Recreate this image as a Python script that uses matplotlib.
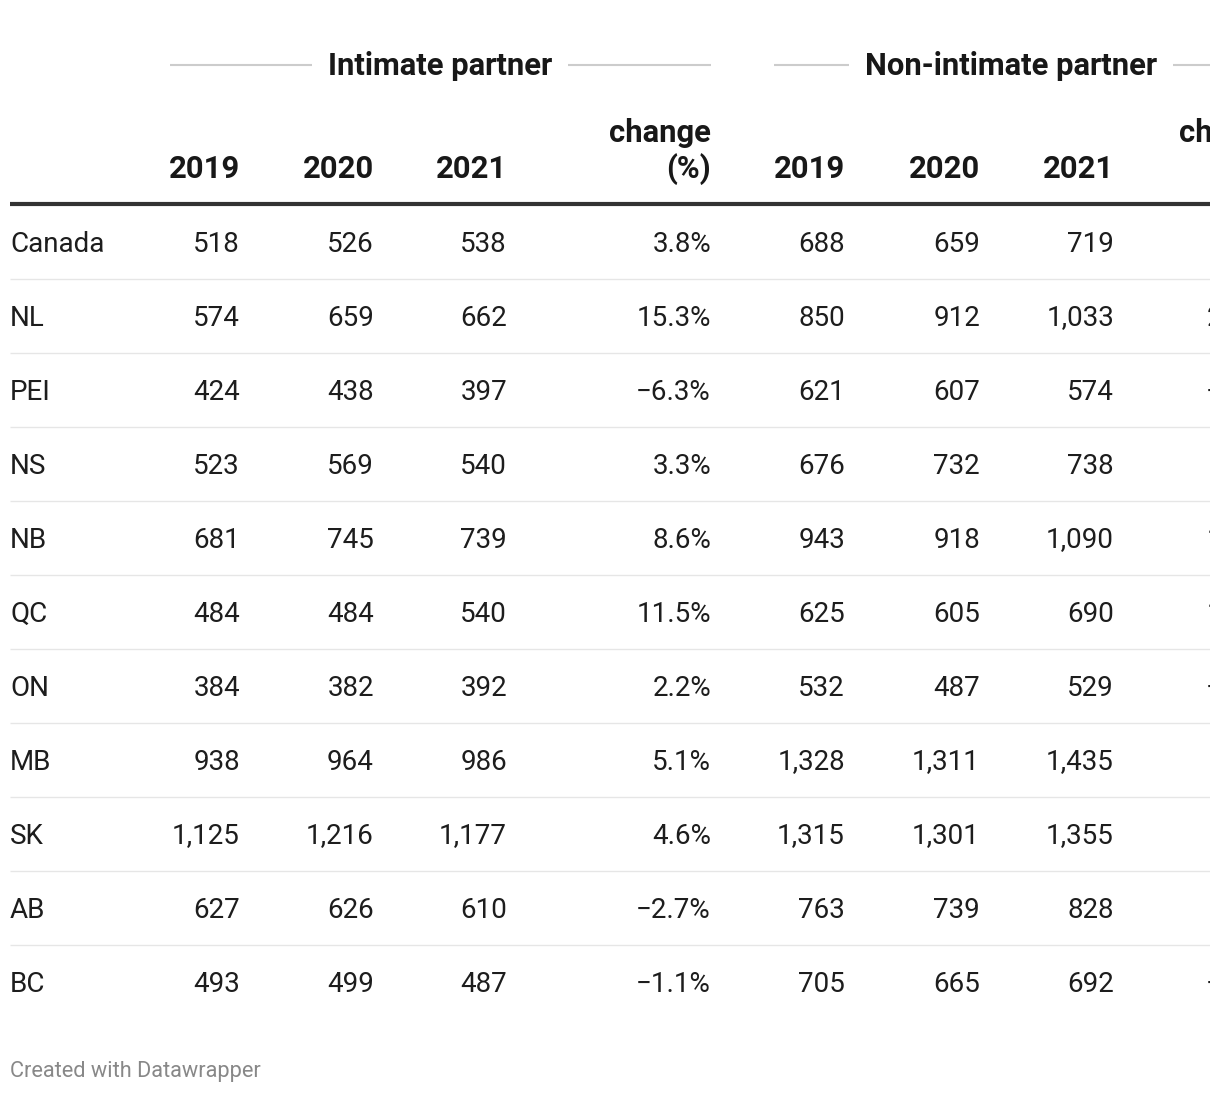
import matplotlib.pyplot as plt

plt.rcParams['font.family'] = ['Roboto', 'DejaVu Sans']

# data
regions = ["Canada", "NL", "PEI", "NS", "NB", "QC", "ON", "MB", "SK", "AB", "BC"]
ip_2019 = [518, 574, 424, 523, 681, 484, 384, 938, 1125, 627, 493]
ip_2020 = [526, 659, 438, 569, 745, 484, 382, 964, 1216, 626, 499]
ip_2021 = [538, 662, 397, 540, 739, 540, 392, 986, 1177, 610, 487]
ip_change = [3.8, 15.3, -6.3, 3.3, 8.6, 11.5, 2.2, 5.1, 4.6, -2.7, -1.1]
nip_2019 = [688, 850, 621, 676, 943, 625, 532, 1328, 1315, 763, 705]
nip_2020 = [659, 912, 607, 732, 918, 605, 487, 1311, 1301, 739, 665]
nip_2021 = [719, 1033, 574, 738, 1090, 690, 529, 1435, 1355, 828, 692]
nip_change = [4.5, 21.5, -7.6, 9.2, 15.6, 10.4, -0.6, 8.1, 3.0, 8.5, -1.8]
years = ["2019", "2020", "2021"]

W, H = 1220, 1094
VIS = 1210  # table is cut off here in the reference
fig = plt.figure(figsize=(W / 100, H / 100), dpi=100)
ax = fig.add_axes([0, 0, VIS / W, 1])
ax.set_xlim(0, VIS)
ax.set_ylim(H, 0)
ax.axis('off')

txt = '#1d1d1d'
body = 20
head = 22.3

def fmt(v):
    return f"{v:,}"

def fmt_pct(v):
    s = f"{v:.1f}%"
    return s.replace('-', '\u2212')

def cell(x, y, s, **kw):
    t = ax.text(x, y, s, va='center', **kw)
    t.set_clip_on(True)
    return t

# group headers: (name, line start, line end, text centre, half text width)
groups = [("Intimate partner", 170, 711, 440, 112),
          ("Non-intimate partner", 774, 1290, 1011, 146)]
for name, x0, x1, xc, half in groups:
    cell(xc, 66, name, ha='center', fontsize=head,
         fontweight='bold', color='#181818')
    ax.plot([x0, xc - half - 16], [65, 65], color='#cccccc', lw=1.5,
            solid_capstyle='butt')
    ax.plot([xc + half + 16, x1], [65, 65], color='#cccccc', lw=1.5,
            solid_capstyle='butt')

# column headers
ip_x = [240, 374, 507]
nip_x = [845, 980, 1114]
for xs in (ip_x, nip_x):
    for x, y in zip(xs, years):
        cell(x, 169, y, ha='right', fontsize=head,
             fontweight='bold', color='#181818')
for x in (711, 1281):
    cell(x, 133, "change", ha='right', fontsize=head,
         fontweight='bold', color='#181818')
    cell(x, 169, "(%)", ha='right', fontsize=head,
         fontweight='bold', color='#181818')

ax.plot([10, W], [204, 204], color='#333333', lw=3, solid_capstyle='butt')

# rows
y0, dy = 242, 74
for i, r in enumerate(regions):
    y = y0 + i * dy
    cell(10, y + 2, r, ha='left', fontsize=body, color=txt)
    cols = [(ip_x[0], fmt(ip_2019[i])), (ip_x[1], fmt(ip_2020[i])),
            (ip_x[2], fmt(ip_2021[i])), (711, fmt_pct(ip_change[i])),
            (nip_x[0], fmt(nip_2019[i])), (nip_x[1], fmt(nip_2020[i])),
            (nip_x[2], fmt(nip_2021[i])), (1281, fmt_pct(nip_change[i]))]
    for x, s in cols:
        cell(x, y + 2, s, ha='right', fontsize=body, color=txt)
    if i < len(regions) - 1:
        ax.plot([10, W], [y + 37, y + 37], color='#e6e6e6', lw=1,
                solid_capstyle='butt')

cell(10, 1072, "Created with Datawrapper", ha='left',
     fontsize=15.7, color='#888888')

fig.savefig('out.png', dpi=100)
